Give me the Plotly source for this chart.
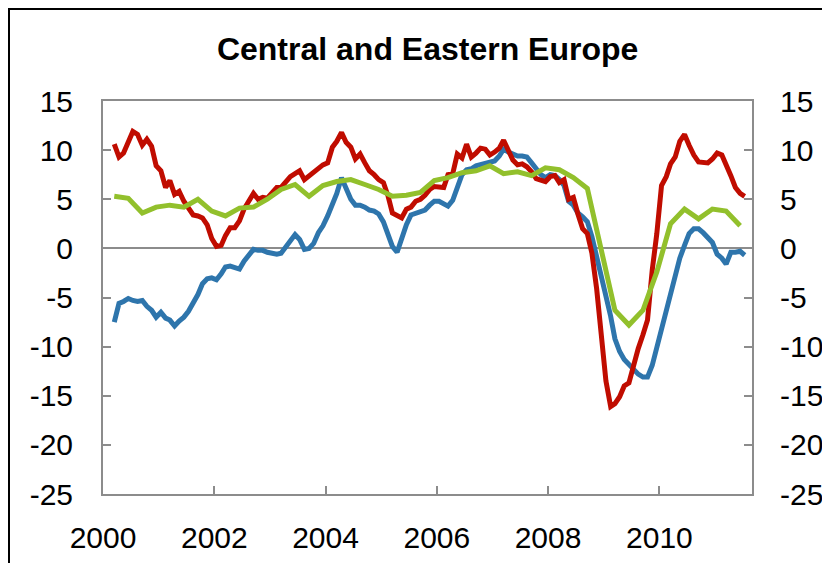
import plotly.graph_objects as go
import pandas as pd

# Monthly series, Mar 2000 .. Jul 2011
red_vals = [10.6, 9.3, 9.7, 10.8, 11.9, 11.6, 10.5, 11.1, 10.4, 8.4,
            7.9, 6.2, 6.9, 5.5, 5.8, 4.8, 4.1, 3.4, 3.3, 3.1,
            2.4, 1.0, 0.2, 0.3, 1.3, 2.1, 2.1, 2.8, 4.0, 4.8,
            5.6, 5.0, 5.2, 5.1, 5.7, 6.2, 6.2, 6.7, 7.3, 7.6,
            7.9, 7.0, 7.4, 7.8, 8.2, 8.5, 8.7, 10.3, 10.9, 11.8,
            10.8, 10.3, 9.1, 9.6, 8.7, 7.9, 7.5, 7.0, 6.7, 5.3,
            3.6, 3.3, 3.1, 4.0, 4.2, 4.8, 5.0, 5.4, 6.0, 6.3,
            6.3, 6.2, 7.5, 7.6, 9.6, 9.2, 10.6, 9.3, 9.7, 10.2,
            10.1, 9.5, 9.8, 10.2, 11.0, 9.9, 9.0, 8.5, 8.6, 8.3,
            7.8, 7.1, 6.9, 6.8, 7.3, 7.4, 6.7, 7.0, 5.0, 5.2,
            3.5, 2.0, 1.5, -0.5, -4.1, -8.5, -13.5, -16.1, -15.8, -15.1,
            -14.0, -13.7, -11.8, -10.2, -8.8, -7.3, -2.2, 1.5, 6.4, 7.3,
            8.6, 9.3, 10.9, 11.6, 10.5, 9.5, 8.8, 8.7, 8.7, 9.1,
            9.7, 9.5, 8.6, 7.4, 6.2, 5.6, 5.3]

blue_vals = [-7.5, -5.6, -5.4, -5.1, -5.3, -5.4, -5.3, -5.9, -6.3, -7.0,
             -6.5, -7.1, -7.3, -7.9, -7.4, -7.0, -6.4, -5.6, -4.7, -3.6,
             -3.1, -3.0, -3.2, -2.6, -1.9, -1.8, -2.0, -2.1, -1.3, -0.6,
             -0.1, -0.2, -0.2, -0.4, -0.5, -0.6, -0.5, 0.2, 0.9, 1.4,
             0.9, -0.1, 0.0, 0.5, 1.6, 2.3, 3.3, 4.4, 5.6, 7.2,
             6.0, 5.0, 4.4, 4.4, 4.2, 3.9, 3.8, 3.5, 2.7, 1.4,
             0.2, -0.4, 1.1, 2.4, 3.4, 3.6, 3.7, 3.9, 4.4, 4.8,
             4.8, 4.6, 4.3, 4.9, 6.2, 7.5, 8.0, 8.1, 8.4, 8.5,
             8.7, 8.8, 8.9, 9.4, 10.1, 9.8, 9.6, 9.4, 9.4, 9.3,
             8.7, 8.1, 7.5, 7.2, 7.5, 7.4, 7.0, 6.4, 4.8, 4.4,
             3.6, 3.2, 2.7, 1.2, -0.8, -2.8, -4.4, -6.9, -9.2, -10.5,
             -11.3, -11.8, -12.4, -12.8, -13.1, -13.1, -11.9, -10.1, -8.0, -6.2,
             -4.3, -2.4, -1.0, 0.3, 1.5, 2.0, 2.0, 1.6, 1.1, 0.6,
             -0.6, -1.0, -1.6, -0.4, -0.4, -0.3, -0.7]

# Quarterly series (end-of-quarter months), Q1 2000 .. Q2 2011
green_vals = [5.3, 5.1, 3.6, 4.2, 4.4, 4.2, 5.0, 3.8, 3.3, 4.1,
              4.2, 5.0, 6.0, 6.5, 5.3, 6.4, 6.8, 7.0, 6.5, 6.0,
              5.3, 5.4, 5.7, 6.9, 7.2, 7.7, 7.9, 8.4, 7.6, 7.8,
              7.4, 8.2, 8.0, 7.2, 6.1, -0.1, -6.3, -7.8, -6.3, -2.4,
              2.5, 4.0, 3.0, 4.0, 3.8, 2.3]

months = pd.date_range("2000-03-01", periods=len(red_vals), freq="MS") + pd.Timedelta(days=14)
quarters = pd.date_range("2000-03-01", periods=len(green_vals), freq="3MS") + pd.Timedelta(days=14)

tick_years = ["2000", "2002", "2004", "2006", "2008", "2010"]
y_ticks = [-25, -20, -15, -10, -5, 0, 5, 10, 15]
y_labels = ["-25", "-20", "-15", "-10", "-5", "0", "5", "10", "15"]

RED = "rgb(192,12,0)"
BLUE = "rgb(46,117,172)"
GREEN = "rgb(146,192,44)"
AXIS = "rgb(140,140,140)"
FONT = "Liberation Sans, Arial, sans-serif"

W, H = 822, 555

fig = go.Figure()
fig.add_trace(go.Scatter(x=months, y=blue_vals, mode="lines",
                         line=dict(color=BLUE, width=5), showlegend=False))
fig.add_trace(go.Scatter(x=months, y=red_vals, mode="lines",
                         line=dict(color=RED, width=5), showlegend=False))
fig.add_trace(go.Scatter(x=quarters, y=green_vals, mode="lines",
                         line=dict(color=GREEN, width=5), showlegend=False,
                         yaxis="y2"))

tickvals = [pd.Timestamp(f"{y}-01-01") for y in tick_years]

fig.update_layout(
    template="none",
    width=W, height=H,
    margin=dict(l=95, r=78, t=93, b=69, pad=0),
    paper_bgcolor="white", plot_bgcolor="white",
    font=dict(family=FONT, size=30, color="black"),
    title=dict(text="<b>Central and Eastern Europe</b>", x=0.5105, xanchor="center",
               y=1 - 41 / H, yanchor="middle",
               font=dict(family=FONT, size=32, color="black")),
    xaxis=dict(
        type="date", automargin=False,
        range=[pd.Timestamp("2000-01-01"), pd.Timestamp("2011-09-01")],
        tickvals=tickvals, ticktext=tick_years,
        ticks="inside", ticklen=8, tickwidth=1.5, tickcolor=AXIS,
        showline=True, linecolor=AXIS, linewidth=2, mirror=True,
        showgrid=False, zeroline=False,
        ticklabelstandoff=16,
        tickfont=dict(family=FONT, size=30, color="black"),
    ),
    yaxis=dict(
        automargin=False,
        range=[-25, 15], tickvals=y_ticks, ticktext=y_labels,
        ticks="inside", ticklen=8, tickwidth=1.5, tickcolor=AXIS,
        showline=True, linecolor=AXIS, linewidth=2, mirror=True,
        showgrid=False, zeroline=True, zerolinecolor=AXIS, zerolinewidth=2,
        ticklabelstandoff=22,
        tickfont=dict(family=FONT, size=30, color="black"),
    ),
    yaxis2=dict(
        automargin=False,
        range=[-25, 15], tickvals=y_ticks, ticktext=y_labels,
        overlaying="y", side="right",
        ticks="inside", ticklen=8, tickwidth=1.5, tickcolor=AXIS,
        showline=True, linecolor=AXIS, linewidth=2,
        showgrid=False, zeroline=False,
        ticklabelstandoff=20,
        tickfont=dict(family=FONT, size=30, color="black"),
    ),
    shapes=[dict(type="rect", xref="paper", yref="paper",
                 x0=(1 - 95) / 649, x1=1.3, y0=-0.3, y1=1 + 92 / 393,
                 line=dict(color="black", width=2), fillcolor="rgba(0,0,0,0)",
                 layer="below")],
)

fig.write_html("out.html")
